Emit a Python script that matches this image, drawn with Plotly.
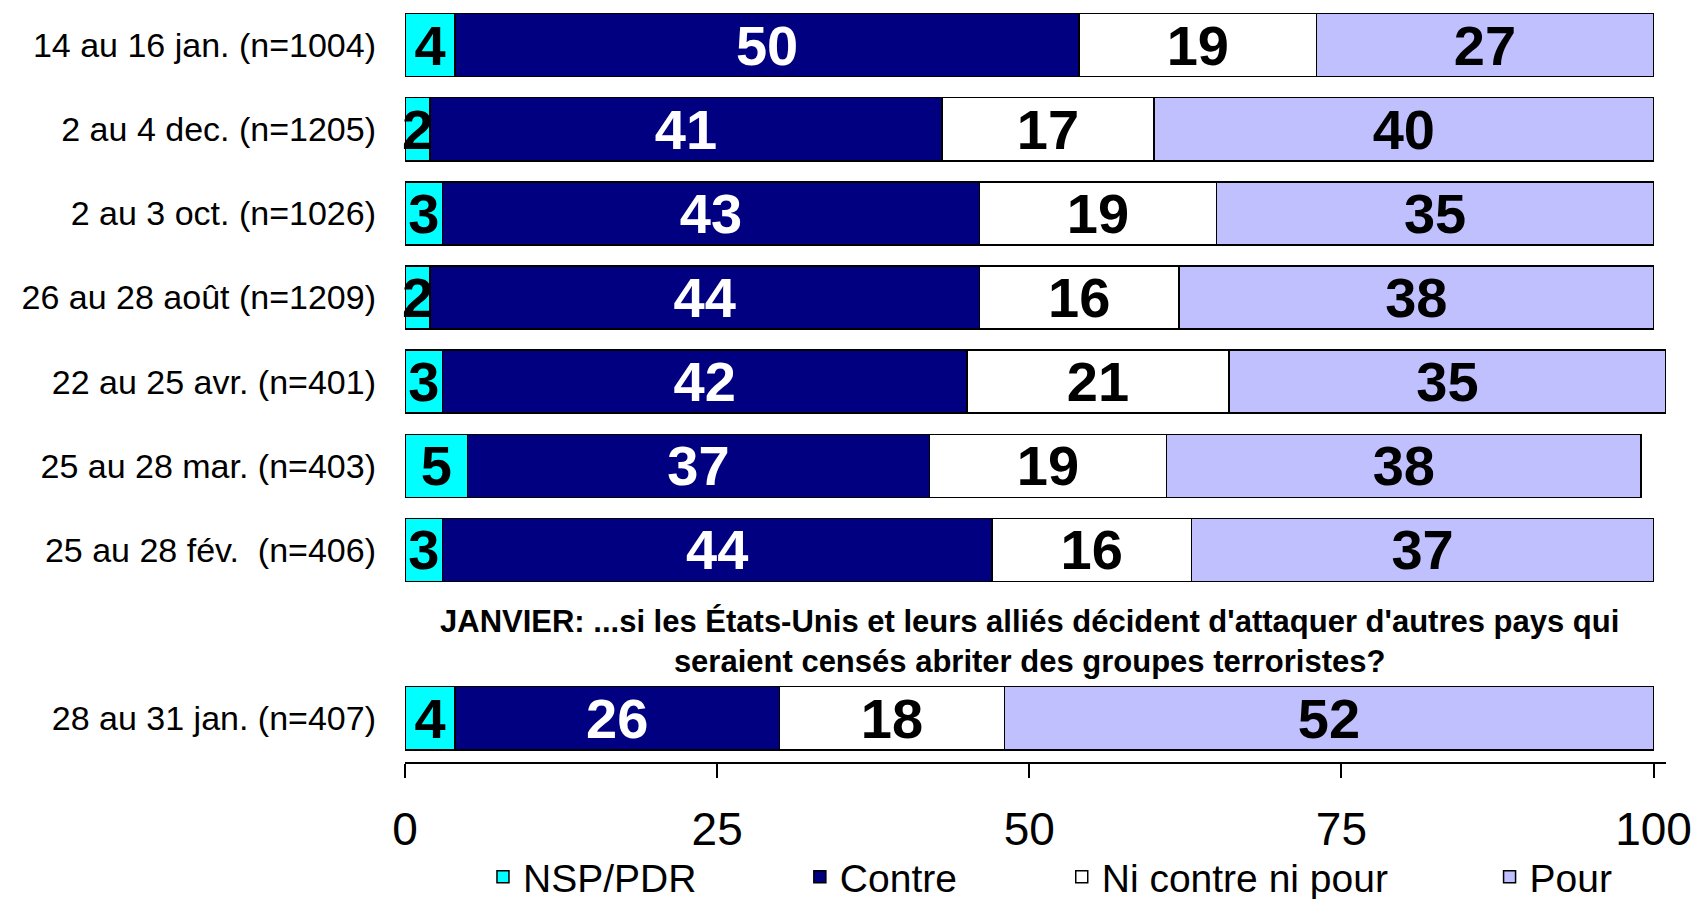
import plotly.graph_objects as go

categories = [
    "14 au 16 jan. (n=1004)",
    "2 au 4 dec. (n=1205)",
    "2 au 3 oct. (n=1026)",
    "26 au 28 août (n=1209)",
    "22 au 25 avr. (n=401)",
    "25 au 28 mar. (n=403)",
    "25 au 28 fév.\u00a0\u00a0(n=406)",
    "28 au 31 jan. (n=407)",
]
row_positions = [0, 1, 2, 3, 4, 5, 6, 8]

nsp = [4, 2, 3, 2, 3, 5, 3, 4]
contre = [50, 41, 43, 44, 42, 37, 44, 26]
ni = [19, 17, 19, 16, 21, 19, 16, 18]
pour = [27, 40, 35, 38, 35, 38, 37, 52]

series = [
    ("NSP/PDR", nsp, "#00FFFF", "black"),
    ("Contre", contre, "#000080", "white"),
    ("Ni contre ni pour", ni, "#FFFFFF", "black"),
    ("Pour", pour, "#C0C0FF", "black"),
]

xticks = [0, 25, 50, 75, 100]
note = ("JANVIER: ...si les États-Unis et leurs alliés décident d'attaquer d'autres pays qui"
        "<br>seraient censés abriter des groupes terroristes?")

FONT = "Liberation Sans, Arial, sans-serif"

W, H = 1694, 899
ml, mr, mt, mb = 405, 27.5, 3, 137
plot_w = W - ml - mr
plot_h = H - mt - mb

legend_text_px = [531, 848, 1110, 1538]

fig = go.Figure()
for i, (name, vals, color, tcolor) in enumerate(series):
    lg = "legend" if i == 0 else f"legend{i+1}"
    fig.add_trace(go.Bar(
        name=name, y=row_positions, x=vals, orientation="h",
        marker=dict(color=color, line=dict(color="black", width=1.5)),
        text=[str(v) for v in vals], textposition="inside", textangle=0,
        insidetextanchor="middle", constraintext="none",
        textfont=dict(family=FONT, size=56, color=tcolor, weight="bold"),
        cliponaxis=False, legend=lg,
    ))

legends = {}
for i, tx in enumerate(legend_text_px):
    key = "legend" if i == 0 else f"legend{i+1}"
    legends[key] = dict(
        x=(tx - 48 - ml) / plot_w, xanchor="left",
        y=(mt + plot_h - 877) / plot_h, yanchor="middle",
        orientation="h", bgcolor="rgba(0,0,0,0)",
        font=dict(family=FONT, size=39, color="black"),
    )

fig.update_layout(
    width=W, height=H,
    margin=dict(l=ml, r=mr, t=mt, b=mb, autoexpand=False),
    paper_bgcolor="white", plot_bgcolor="white",
    barmode="stack", bargap=0.25,
    uniformtext=dict(minsize=56, mode="show"),
    showlegend=True,
    **legends,
)
fig.update_xaxes(
    range=[0, 101], tickvals=xticks, ticktext=[str(t) for t in xticks],
    showgrid=False, zeroline=False, showline=True, linecolor="black", linewidth=1.5,
    ticks="outside", ticklen=14, tickcolor="black", tickwidth=1.5,
    tickfont=dict(family=FONT, size=46, color="black"),
    ticklabelstandoff=12, automargin=False,
)
fig.update_yaxes(
    range=[8.52, -0.5], tickvals=row_positions, ticktext=categories,
    showgrid=False, zeroline=False, showline=False, ticks="",
    tickfont=dict(family=FONT, size=34, color="black"),
    ticklabelstandoff=28, automargin=False,
)
fig.add_annotation(
    x=50, y=7.09, xref="x", yref="y", text=note, showarrow=False,
    font=dict(family=FONT, size=31, color="black", weight="bold"),
    align="center",
)

fig.write_html(
    "out.html",
    config={"displayModeBar": False},
    post_script="document.body.style.margin='0';document.body.style.overflow='hidden';",
)
